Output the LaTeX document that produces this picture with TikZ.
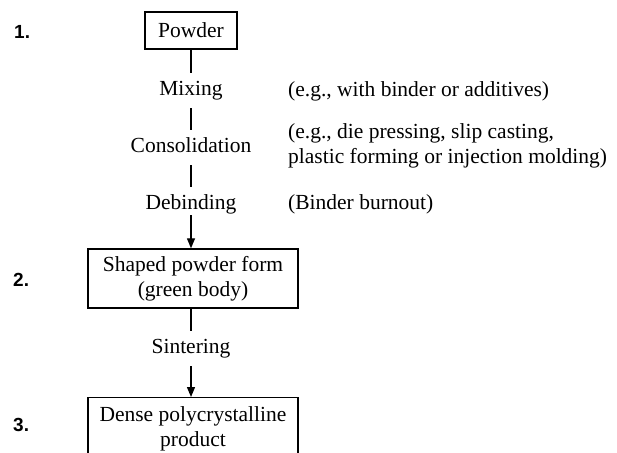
\documentclass[tikz,border=0pt]{standalone}
\usepackage{fontspec}
\setmainfont{Liberation Serif}
\newfontfamily\numfont{Liberation Sans}
\usetikzlibrary{arrows.meta}
\begin{document}
\begin{tikzpicture}[x=1pt,y=-1pt,
  font=\fontsize{21.5}{25}\selectfont,
  stepbox/.style={draw,line width=1.4pt,inner sep=0pt,align=center},
  steptext/.style={anchor=base,inner xsep=2pt,inner ysep=8pt,text height=14pt,text depth=5pt},
  note/.style={anchor=base west,inner sep=0pt,align=left},
  num/.style={font=\numfont\bfseries\fontsize{19}{21}\selectfont,anchor=base west,inner sep=0pt},
  conn/.style={line width=1.3pt},
  arr/.style={line width=1.3pt,-{Triangle[length=10pt,width=8pt]}}]
\useasboundingbox (0,0) rectangle (617,452);
\clip (0,0) rectangle (617,452);
% boxes
\node[stepbox,minimum width=92pt,minimum height=37pt] (powder) at (191,30.5) {Powder};
\node[stepbox,minimum width=210pt,minimum height=59pt] (green) at (193,278.5) {Shaped powder form\\(green body)};
\node[stepbox,minimum width=210pt,minimum height=90pt,anchor=north] (dense) at (193,397) {};
\node[inner sep=0pt,align=center,anchor=north] (densetext) at (193,406) {Dense polycrystalline\\product};
% steps
\node[steptext] (mixing) at (191,95) {Mixing};
\node[steptext] (consol) at (191,152) {Consolidation};
\node[steptext] (debind) at (191,209) {Debinding};
\node[steptext] (sinter) at (191,353) {Sintering};
% notes
\node[note] (n1) at (288,96) {(e.g., with binder or additives)};
\node[note,anchor=west] (n2) at (288,146) {(e.g., die pressing, slip casting,\\plastic forming or injection molding)};
\node[note] (n3) at (288,209) {(Binder burnout)};
% numbers
\node[num] (one) at (14,38) {1.};
\node[num] (two) at (13,286) {2.};
\node[num] (three) at (13,431) {3.};
% connectors
\draw[conn] (powder.south) -- (mixing.north);
\draw[conn] (mixing.south) -- (consol.north);
\draw[conn] (consol.south) -- (debind.north);
\draw[arr,shorten <=-7pt] (debind.south) -- (debind.south |- green.north);
\draw[conn] (debind.south |- green.south) -- (sinter.north);
\draw[arr] (sinter.south) -- (sinter.south |- dense.north);
\end{tikzpicture}
\end{document}
